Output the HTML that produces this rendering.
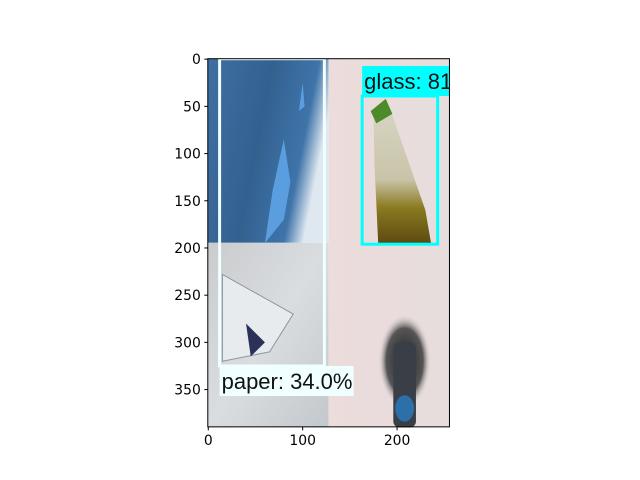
<!DOCTYPE html>
<html><head><meta charset="utf-8"><style>
body{margin:0;background:#fff;}
svg{display:block;font-family:"DejaVu Sans","Liberation Sans",sans-serif;}
</style></head><body>
<svg id="c" width="640" height="480">
<defs>
<linearGradient id="blueg" x1="0" y1="0" x2="1" y2="0.3"><stop offset="0" stop-color="#3f6fa3"/><stop offset="0.5" stop-color="#33618f"/><stop offset="0.85" stop-color="#3f74aa"/><stop offset="1" stop-color="#dfe8f0"/></linearGradient>
<linearGradient id="grayg" x1="0" y1="0" x2="1" y2="1"><stop offset="0" stop-color="#c9cbcd"/><stop offset="0.5" stop-color="#dadde0"/><stop offset="1" stop-color="#c3c8cc"/></linearGradient>
<linearGradient id="pinkg" x1="0" y1="0" x2="1" y2="0"><stop offset="0" stop-color="#ecdcdc"/><stop offset="1" stop-color="#e7dddd"/></linearGradient>
<radialGradient id="shadow" cx="0.5" cy="0.5" r="0.5"><stop offset="0" stop-color="#222"/><stop offset="0.7" stop-color="#555"/><stop offset="1" stop-color="#e5dada" stop-opacity="0"/></radialGradient>
<linearGradient id="bottleg" x1="0" y1="0" x2="0" y2="1"><stop offset="0" stop-color="#d8d6c6"/><stop offset="0.55" stop-color="#c9c4a8"/><stop offset="0.75" stop-color="#8a7a20"/><stop offset="1" stop-color="#5d4a10"/></linearGradient>
</defs>
<g id="plot"></g>
</svg>
<script>
const xTicks=[0,100,200];
const yTicks=[0,50,100,150,200,250,300,350];
const imgW=256, imgH=390;
const boxLabels=["paper: 34.0%","glass: 81"];
const boxX0=[12,163];
const boxX1=[123,243];
const boxY0=[-5,39];
const boxY1=[325,196];
const boxColors=["#f0ffff","#00ffff"];

const L=207.8,T=58.7,S=0.944;
const X=v=>L+(v+0.5)*S, Y=v=>T+(v+0.5)*S;
const ns="http://www.w3.org/2000/svg";
const g=document.getElementById('plot');
function el(t,a,p){const e=document.createElementNS(ns,t);for(const k in a)e.setAttribute(k,a[k]);(p||g).appendChild(e);return e;}
const x0=L,y0=T,W=imgW*S,H=imgH*S;
const xm=X(127.5), ym=Y(194.5);
let q=el('rect',{x:x0,y:y0,width:xm-x0,height:ym-y0,fill:'url(#blueg)'});

q=el('rect',{x:x0,y:ym,width:xm-x0,height:y0+H-ym,fill:'url(#grayg)'});

q=el('rect',{x:xm,y:y0,width:x0+W-xm,height:H,fill:'url(#pinkg)'});

el('path',{d:`M${X(100)} ${Y(25)} L${X(96)} ${Y(55)} L${X(102)} ${Y(50)} Z`,fill:'#5a9ee0'});
el('path',{d:`M${X(80)} ${Y(85)} L${X(68)} ${Y(140)} L${X(60)} ${Y(195)} L${X(80)} ${Y(170)} L${X(87)} ${Y(130)} Z`,fill:'#5a9ee0'});
el('path',{d:`M${X(15)} ${Y(228)} L${X(90)} ${Y(270)} L${X(65)} ${Y(310)} L${X(15)} ${Y(320)} Z`,fill:'#e8ebee',stroke:'#8b96a3','stroke-width':1});
el('path',{d:`M${X(40)} ${Y(280)} L${X(60)} ${Y(300)} L${X(45)} ${Y(315)} Z`,fill:'#2b3158'});
el('ellipse',{cx:X(208),cy:Y(320),rx:28*S,ry:50*S,fill:'url(#shadow)'});
el('rect',{x:X(196),y:Y(300),width:24*S,height:90*S,rx:6,fill:'#3a3f47'});
el('ellipse',{cx:X(208),cy:Y(370),rx:10*S,ry:14*S,fill:'#2d6fa8'});
el('path',{d:`M${X(175)} ${Y(55)} L${X(190)} ${Y(45)} L${X(230)} ${Y(160)} L${X(236)} ${Y(195)} L${X(180)} ${Y(195)} L${X(176)} ${Y(110)} Z`,fill:'url(#bottleg)'});
el('path',{d:`M${X(172)} ${Y(55)} L${X(188)} ${Y(42)} L${X(195)} ${Y(58)} L${X(178)} ${Y(68)} Z`,fill:'#4d8a2a'});
boxLabels.forEach((lab,i)=>{
  const bx=X(boxX0[i]),by=Y(boxY0[i]),bw=X(boxX1[i])-bx;
  const r=el('rect',{x:bx,y:Math.max(by,T),width:bw,height:Y(boxY1[i])-Math.max(by,T),fill:'none',stroke:boxColors[i],'stroke-width':3});
  
  const ly = i==0 ? Y(boxY1[i]) : by-30;
  const tw = i==0?134:90;
  const lr=el('rect',{x:bx,y:ly,width:tw,height:30,fill:boxColors[i]});
  
  const t=el('text',{x:bx+2,y:ly+23,'font-size':22,fill:'#111','font-family':'Liberation Sans, sans-serif'});t.textContent=lab;
  
});
el('rect',{x:x0+W+0.5,y:0,width:200,height:480,fill:'#fff'});
el('rect',{x:0,y:0,width:640,height:T-0.5,fill:'#fff'});
const f=el('rect',{x:x0,y:y0,width:W,height:H,fill:'none',stroke:'#000','stroke-width':1});

xTicks.forEach(v=>{
  const x=X(v);el('line',{x1:x,x2:x,y1:y0+H,y2:y0+H+3.5,stroke:'#000'});
  const t=el('text',{x:x,y:y0+H+18,'font-size':13.9,'text-anchor':'middle'});t.textContent=v;
  
});
yTicks.forEach(v=>{
  const y=Y(v);el('line',{x1:x0,x2:x0-3.5,y1:y,y2:y,stroke:'#000'});
  const t=el('text',{x:x0-7,y:y+5,'font-size':13.9,'text-anchor':'end'});t.textContent=v;
  
});
</script>
</body></html>
